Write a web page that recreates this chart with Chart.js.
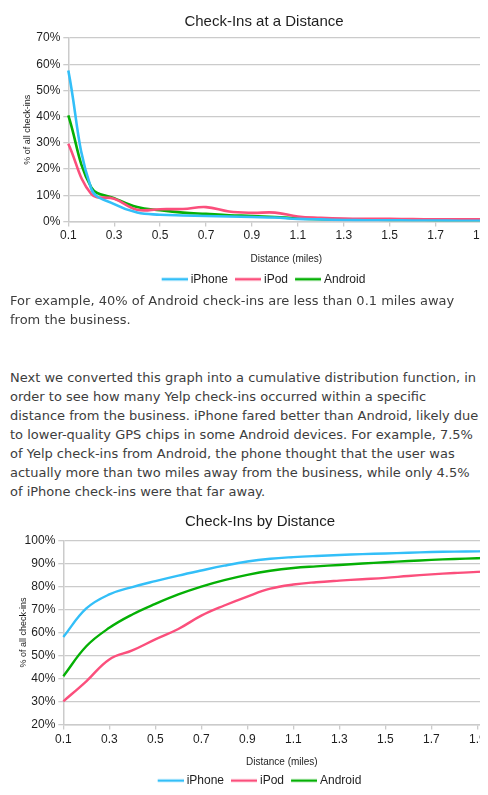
<!DOCTYPE html>
<html>
<head>
<meta charset="utf-8">
<script src="https://cdn.jsdelivr.net/npm/chart.js@4.4.1/dist/chart.umd.min.js"></script>
<style>
html,body{margin:0;padding:0;background:#fff;}
body{width:488px;height:795px;overflow:hidden;position:relative;}
.clip{position:absolute;left:10px;width:470px;overflow:hidden;}
#wrap1{top:0;height:297px;}
#wrap2{top:499px;height:298px;}
#box1{position:relative;width:508px;height:297px;}
#box2{position:relative;width:500px;height:298px;}
.txt{position:absolute;left:10px;margin:0;font-family:"DejaVu Sans",sans-serif;font-size:13px;line-height:19px;color:#3d3d3d;white-space:nowrap;}
#p1{top:291px;}
#p2{top:368px;}
</style>
</head>
<body>
<div class="clip" id="wrap1"><div id="box1"><canvas id="c1"></canvas></div></div>
<p class="txt" id="p1">For example, 40% of Android check-ins are less than 0.1 miles away<br>from the business.</p>
<p class="txt" id="p2">Next we converted this graph into a cumulative distribution function, in<br>order to see how many Yelp check-ins occurred within a specific<br>distance from the business. iPhone fared better than Android, likely due<br>to lower-quality GPS chips in some Android devices. For example, 7.5%<br>of Yelp check-ins from Android, the phone thought that the user was<br>actually more than two miles away from the business, while only 4.5%<br>of iPhone check-ins were that far away.</p>
<div class="clip" id="wrap2"><div id="box2"><canvas id="c2"></canvas></div></div>
<script>
// ---- data ----
const distanceLabels = ['0.1','0.2','0.3','0.4','0.5','0.6','0.7','0.8','0.9','1.0',
                        '1.1','1.2','1.3','1.4','1.5','1.6','1.7','1.8','1.9','2.0'];
const seriesNames = ['iPhone', 'iPod', 'Android'];
// Chart 1: % of all check-ins at each distance
const densityIphone  = [57.6, 12.5, 6.6, 3.4, 2.6, 2.3, 2.1, 1.9, 1.7, 1.5, 1.0, 0.8, 0.6, 0.5, 0.5, 0.4, 0.4, 0.3, 0.3, 0.3];
const densityIpod    = [29.7, 10.5, 8.7, 4.5, 4.7, 4.8, 5.5, 3.8, 3.3, 3.4, 1.9, 1.4, 1.1, 1.0, 1.0, 0.9, 0.8, 0.8, 0.8, 0.7];
const densityAndroid = [40.5, 13.0, 8.9, 5.5, 4.3, 3.4, 2.9, 2.4, 2.1, 1.7, 1.2, 0.9, 0.8, 0.7, 0.6, 0.6, 0.5, 0.5, 0.5, 0.4];
// Chart 2: cumulative % of check-ins within distance
const cumIphone  = [58.0, 70.4, 76.5, 79.7, 82.3, 84.7, 86.9, 89.0, 90.8, 92.0, 92.7, 93.2, 93.6, 94.0, 94.3, 94.6, 94.9, 95.1, 95.2, 95.4];
const cumIpod    = [30.1, 38.8, 48.3, 52.2, 57.0, 61.5, 67.3, 71.7, 75.6, 79.0, 80.8, 81.8, 82.5, 83.1, 83.7, 84.5, 85.2, 85.8, 86.3, 86.6];
const cumAndroid = [41.0, 54.0, 62.0, 67.8, 72.4, 76.5, 79.9, 82.7, 85.0, 86.8, 88.0, 88.7, 89.3, 89.9, 90.5, 91.0, 91.5, 91.9, 92.2, 92.5];
const titles = ['Check-Ins at a Distance', 'Check-Ins by Distance'];
const xTitle = 'Distance (miles)';
const yTitle = '% of all check-ins';

// ---- styling ----
const colors = ['#33bff8', '#fb4f7c', '#05b005'];
const FONT = '"Liberation Sans", Arial, sans-serif';
const TXT = '#1e1e1e';
const GRID = '#cbcbcb';

function legendLine(color, lw) {
  const c = document.createElement('canvas');
  c.width = 28; c.height = 6;
  const g = c.getContext('2d');
  g.fillStyle = color;
  g.fillRect(2, 3 - lw / 2, 26, lw);
  return c;
}

function makeChart(id, values, cfg) {
  const datasets = values.map((v, i) => ({
    label: seriesNames[i], data: v,
    borderColor: colors[i], backgroundColor: colors[i],
    borderWidth: cfg.lw, pointRadius: 0, tension: 0.4, fill: false,
    pointStyle: legendLine(colors[i], cfg.lw)
  }));
  return new Chart(document.getElementById(id), {
    type: 'line',
    data: { labels: distanceLabels, datasets },
    options: {
      responsive: true, maintainAspectRatio: false, animation: false,
      layout: { padding: { left: 0, right: 0, top: 0, bottom: cfg.padB } },
      plugins: {
        title: { display: true, text: cfg.title, color: TXT,
                 font: { family: FONT, size: 15, weight: 'normal' },
                 padding: { top: cfg.tTop, bottom: cfg.tBot } },
        legend: { position: 'bottom',
                  labels: { usePointStyle: true, pointStyleWidth: 22,
                            padding: 8, color: TXT, font: { family: FONT, size: 12 } } },
        tooltip: { enabled: false }
      },
      scales: {
        x: {
          type: 'category',
          grid: { drawOnChartArea: false, drawTicks: true, tickLength: 5, lineWidth: 1.3,
                  color: c => (c.index % 2 === 0 ? GRID : 'rgba(0,0,0,0)') },
          border: { color: GRID, width: 1.5 },
          ticks: { autoSkip: false, maxRotation: 0, padding: cfg.xtp, color: TXT,
                   font: { family: FONT, size: 12 },
                   callback: (v, i) => (i % 2 === 0 ? distanceLabels[i] : '') },
          title: { display: true, text: xTitle, color: TXT, font: { family: FONT, size: 10 },
                   padding: { top: 0, bottom: cfg.xtBot } },
          afterFit: s => { s.height = cfg.xH; }
        },
        y: {
          min: cfg.ymin, max: cfg.ymax,
          grid: { color: GRID, lineWidth: 1.3, tickLength: 5 },
          border: { color: GRID, width: 1.5 },
          ticks: { stepSize: 10, padding: 3, color: TXT, font: { family: FONT, size: 12 },
                   callback: v => v + '%' },
          title: { display: true, text: yTitle, color: TXT, font: { family: FONT, size: 9 },
                   padding: { top: cfg.ytTop, bottom: 0 } },
          afterFit: s => { s.width = cfg.yW; }
        },
        yR: {
          type: 'linear', position: 'right', display: true,
          grid: { display: false }, border: { display: false }, ticks: { display: false },
          afterFit: s => { s.width = cfg.rW; }
        }
      }
    }
  });
}

makeChart('c1', [densityIphone, densityIpod, densityAndroid],
  { title: titles[0], lw: 2.6, padB: 1.8, tTop: 13, tBot: 7.1, xH: 43.7, xtp: 2, xtBot: -0.2,
    ymin: 0, ymax: 70, yW: 58.3, ytTop: 12.6, rW: 13.6 });
makeChart('c2', [cumIphone, cumIpod, cumAndroid],
  { title: titles[1], lw: 2.4, padB: 0.4, tTop: 13.4, tBot: 9.9, xH: 42, xtp: 2.4, xtBot: -1.7,
    ymin: 20, ymax: 100, yW: 53.3, ytTop: 8.6, rW: 9.7 });
</script>
</body>
</html>
